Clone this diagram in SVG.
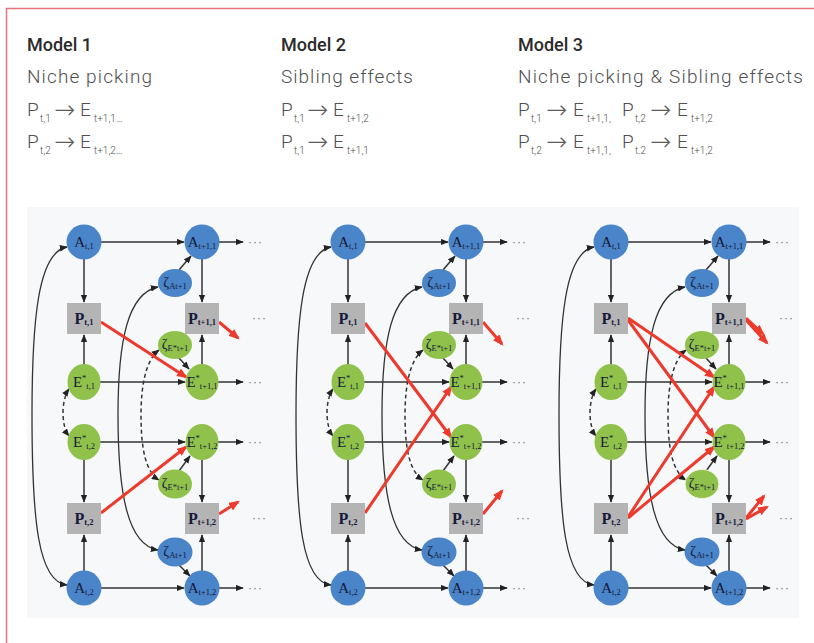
<svg xmlns="http://www.w3.org/2000/svg" width="814" height="643" viewBox="0 0 814 643">
<defs>
<style>
.mh{font-family:Roboto,"Liberation Sans",sans-serif;font-weight:500;font-size:18px;fill:#2b2b2b}
.sh{font-family:Roboto,"Liberation Sans",sans-serif;font-weight:300;font-size:19px;fill:#505050}
.hs{font-size:10px}
.ha{font-family:"DejaVu Sans",sans-serif;font-size:25px;font-weight:200;fill:#5a5a5a}
.bl{fill:#4a84c9}
.gr{fill:#90c24b}
.gy{fill:#b4b4b4}
.lab{font-family:"Liberation Serif",serif;font-size:15px;fill:#161a3a;text-anchor:middle}
.pl{font-weight:bold;font-size:16px}
.sb{font-size:8.5px}
.zl{font-family:"Liberation Serif",serif;font-size:14px;fill:#161a3a;text-anchor:middle}
.dots{font-family:"Liberation Sans",sans-serif;font-size:12px;fill:#777;letter-spacing:1px}
.k{fill:none;stroke:#333;stroke-width:1.5;marker-end:url(#ab)}
.kk{fill:none;stroke:#333;stroke-width:1.3;marker-start:url(#ab);marker-end:url(#ab)}
.kd{fill:none;stroke:#333;stroke-width:1.5;stroke-dasharray:4 3;marker-start:url(#ab);marker-end:url(#ab)}
.r{fill:none;stroke:#ee3a2c;stroke-width:3;marker-end:url(#ar)}
</style>
<marker id="ab" viewBox="0 0 10 8" refX="9" refY="4" markerWidth="8" markerHeight="7" orient="auto-start-reverse" markerUnits="userSpaceOnUse"><path d="M0,0 L10,4 L0,8 z" fill="#222"/></marker>
<marker id="ar" viewBox="0 0 10 8" refX="8" refY="4" markerWidth="11" markerHeight="9" orient="auto" markerUnits="userSpaceOnUse"><path d="M0,0 L10,4 L0,8 z" fill="#ee3a2c"/></marker>
</defs>
<rect width="814" height="643" fill="#ffffff"/>
<path d="M6.5,643 V8.5 H814" fill="none" stroke="#e7747d" stroke-width="1.5"/>

<g id="header">
<text class="mh" x="27" y="51">Model 1</text>
<text class="sh" x="27" y="83" textLength="125">Niche picking</text>
<text class="sh"><tspan x="27" y="116">P</tspan><tspan class="hs" x="40" y="122">t,1</tspan><tspan class="ha" x="54" y="118">→</tspan><tspan x="80" y="116">E</tspan><tspan class="hs" x="94" y="122">t+1,1…</tspan></text>
<text class="sh"><tspan x="27" y="148">P</tspan><tspan class="hs" x="40" y="154">t,2</tspan><tspan class="ha" x="54" y="150">→</tspan><tspan x="80" y="148">E</tspan><tspan class="hs" x="94" y="154">t+1,2…</tspan></text>

<text class="mh" x="281" y="51">Model 2</text>
<text class="sh" x="281" y="83" textLength="132">Sibling effects</text>
<text class="sh"><tspan x="281" y="116">P</tspan><tspan class="hs" x="294" y="122">t,1</tspan><tspan class="ha" x="307" y="118">→</tspan><tspan x="333" y="116">E</tspan><tspan class="hs" x="347" y="122">t+1,2</tspan></text>
<text class="sh"><tspan x="281" y="148">P</tspan><tspan class="hs" x="294" y="154">t,1</tspan><tspan class="ha" x="307" y="150">→</tspan><tspan x="333" y="148">E</tspan><tspan class="hs" x="347" y="154">t+1,1</tspan></text>

<text class="mh" x="518" y="51">Model 3</text>
<text class="sh" x="518" y="83" textLength="285">Niche picking &amp; Sibling effects</text>
<text class="sh"><tspan x="518" y="116">P</tspan><tspan class="hs" x="531" y="122">t,1</tspan><tspan class="ha" x="546" y="118">→</tspan><tspan x="573" y="116">E</tspan><tspan class="hs" x="587" y="122">t+1,1,</tspan><tspan x="622" y="116">P</tspan><tspan class="hs" x="635" y="122">t,2</tspan><tspan class="ha" x="650" y="118">→</tspan><tspan x="677" y="116">E</tspan><tspan class="hs" x="691" y="122">t+1,2</tspan></text>
<text class="sh"><tspan x="518" y="148">P</tspan><tspan class="hs" x="531" y="154">t,2</tspan><tspan class="ha" x="546" y="150">→</tspan><tspan x="573" y="148">E</tspan><tspan class="hs" x="587" y="154">t+1,1,</tspan><tspan x="622" y="148">P</tspan><tspan class="hs" x="635" y="154">t.2</tspan><tspan class="ha" x="650" y="150">→</tspan><tspan x="677" y="148">E</tspan><tspan class="hs" x="691" y="154">t+1,2</tspan></text>
</g>

<rect x="27" y="207" width="772" height="411" fill="#f7f8fa"/>

<!-- Panel 1 -->
<g id="panel1">
<g id="p1-connectors">
<path class="kk" d="M67,247 C38,252 32,320 32,415 C32,520 38,582 67,585"/>
<path class="kd" d="M69,389 C61,400 61,426 69,436"/>
<path class="kk" d="M158,287 C128,293 118,340 118,415 C118,495 128,545 158,550"/>
<path class="kd" d="M159,350 C146,360 141,385 141,415 C141,450 146,472 159,480"/>
<path class="k" d="M101,242 H184"/>
<path class="k" d="M219,242 H243"/>
<path class="k" d="M84,259 V302"/>
<path class="k" d="M84,364 V335"/>
<path class="k" d="M202,259 V302"/>
<path class="k" d="M202,364 V335"/>
<path class="k" d="M179,270 L191,256"/>
<path class="k" d="M179,358 L189,369"/>
<path class="k" d="M100,382 H185"/>
<path class="k" d="M218,382 H243"/>
<path class="k" d="M100,442 H185"/>
<path class="k" d="M218,442 H243"/>
<path class="k" d="M84,460 V502"/>
<path class="k" d="M84,571 V535"/>
<path class="k" d="M202,460 V502"/>
<path class="k" d="M202,571 V535"/>
<path class="k" d="M101,588 H184"/>
<path class="k" d="M219,588 H243"/>
<path class="k" d="M179,471 L190,456"/>
<path class="k" d="M179,565 L190,576"/>
<path class="r" d="M101,322 L186,377"/>
<path class="r" d="M219,322 L238,338"/>
<path class="r" d="M101,513 L186,447"/>
<path class="r" d="M219,514 L238,502"/>
</g>
<g id="p1-A-t1"><circle class="bl" cx="84" cy="242" r="17.5"/><text class="lab" x="84" y="247">A<tspan class="sb" dy="2">t,1</tspan></text></g>
<g id="p1-A-t11"><circle class="bl" cx="202" cy="242" r="17.5"/><text class="lab" x="202" y="247">A<tspan class="sb" dy="2">t+1,1</tspan></text></g>
<g id="p1-zA1"><ellipse class="bl" cx="175" cy="283" rx="17" ry="14"/><text class="zl" x="175" y="287">ζ<tspan class="sb" dy="2">At+1</tspan></text></g>
<g id="p1-P-t1"><rect class="gy" x="67" y="303" width="34" height="31"/><text class="lab pl" x="84" y="324">P<tspan class="sb" dy="1">t,1</tspan></text></g>
<g id="p1-P-t11"><rect class="gy" x="185" y="303" width="34" height="31"/><text class="lab pl" x="202" y="324">P<tspan class="sb" dy="1">t+1,1</tspan></text></g>
<g id="p1-zE1"><ellipse class="gr" cx="175" cy="345" rx="17" ry="14"/><text class="zl" x="175" y="349">ζ<tspan class="sb" dy="2">E*t+1</tspan></text></g>
<g id="p1-E-t1"><ellipse class="gr" cx="84" cy="382" rx="16.5" ry="18"/><text class="lab" x="84" y="387">E<tspan class="sb" dy="-6">*</tspan><tspan class="sb" dy="8">t,1</tspan></text></g>
<g id="p1-E-t11"><ellipse class="gr" cx="202" cy="382" rx="16.5" ry="18"/><text class="lab" x="202" y="387">E<tspan class="sb" dy="-6">*</tspan><tspan class="sb" dy="8">t+1,1</tspan></text></g>
<g id="p1-E-t2"><ellipse class="gr" cx="84" cy="442" rx="16.5" ry="18"/><text class="lab" x="84" y="447">E<tspan class="sb" dy="-6">*</tspan><tspan class="sb" dy="8">t,2</tspan></text></g>
<g id="p1-E-t12"><ellipse class="gr" cx="202" cy="442" rx="16.5" ry="18"/><text class="lab" x="202" y="447">E<tspan class="sb" dy="-6">*</tspan><tspan class="sb" dy="8">t+1,2</tspan></text></g>
<g id="p1-zE2"><ellipse class="gr" cx="175" cy="484" rx="17" ry="14.5"/><text class="zl" x="175" y="488">ζ<tspan class="sb" dy="2">E*t+1</tspan></text></g>
<g id="p1-P-t2"><rect class="gy" x="67" y="503" width="34" height="31"/><text class="lab pl" x="84" y="524">P<tspan class="sb" dy="1">t,2</tspan></text></g>
<g id="p1-P-t12"><rect class="gy" x="185" y="503" width="34" height="31"/><text class="lab pl" x="202" y="524">P<tspan class="sb" dy="1">t+1,2</tspan></text></g>
<g id="p1-zA2"><ellipse class="bl" cx="175" cy="552" rx="17.5" ry="14.5"/><text class="zl" x="175" y="556">ζ<tspan class="sb" dy="2">At+1</tspan></text></g>
<g id="p1-A-t2"><circle class="bl" cx="84" cy="588" r="17.5"/><text class="lab" x="84" y="593">A<tspan class="sb" dy="2">t,2</tspan></text></g>
<g id="p1-A-t12"><circle class="bl" cx="202" cy="588" r="17.5"/><text class="lab" x="202" y="593">A<tspan class="sb" dy="2">t+1,2</tspan></text></g>
<g id="p1-dots">
<text class="dots" x="248" y="246">···</text>
<text class="dots" x="252" y="322">···</text>
<text class="dots" x="248" y="386">···</text>
<text class="dots" x="248" y="446">···</text>
<text class="dots" x="252" y="522">···</text>
<text class="dots" x="248" y="592">···</text>
</g>
</g>

<!-- Panel 2 -->
<g id="panel2" transform="translate(264,0)">
<g id="p2-connectors">
<path class="kk" d="M67,247 C38,252 32,320 32,415 C32,520 38,582 67,585"/>
<path class="kd" d="M69,389 C61,400 61,426 69,436"/>
<path class="kk" d="M158,287 C128,293 118,340 118,415 C118,495 128,545 158,550"/>
<path class="kd" d="M159,350 C146,360 141,385 141,415 C141,450 146,472 159,480"/>
<path class="k" d="M101,242 H184"/>
<path class="k" d="M219,242 H243"/>
<path class="k" d="M84,259 V302"/>
<path class="k" d="M84,364 V335"/>
<path class="k" d="M202,259 V302"/>
<path class="k" d="M202,364 V335"/>
<path class="k" d="M179,270 L191,256"/>
<path class="k" d="M179,358 L189,369"/>
<path class="k" d="M100,382 H185"/>
<path class="k" d="M218,382 H243"/>
<path class="k" d="M100,442 H185"/>
<path class="k" d="M218,442 H243"/>
<path class="k" d="M84,460 V502"/>
<path class="k" d="M84,571 V535"/>
<path class="k" d="M202,460 V502"/>
<path class="k" d="M202,571 V535"/>
<path class="k" d="M101,588 H184"/>
<path class="k" d="M219,588 H243"/>
<path class="k" d="M179,471 L190,456"/>
<path class="k" d="M179,565 L190,576"/>
<path class="r" d="M101,323 L187,437"/>
<path class="r" d="M101,513 L187,387"/>
<path class="r" d="M219,322 L238,344"/>
<path class="r" d="M219,514 L238,491"/>
</g>
<g id="p2-A-t1"><circle class="bl" cx="84" cy="242" r="17.5"/><text class="lab" x="84" y="247">A<tspan class="sb" dy="2">t,1</tspan></text></g>
<g id="p2-A-t11"><circle class="bl" cx="202" cy="242" r="17.5"/><text class="lab" x="202" y="247">A<tspan class="sb" dy="2">t+1,1</tspan></text></g>
<g id="p2-zA1"><ellipse class="bl" cx="175" cy="283" rx="17" ry="14"/><text class="zl" x="175" y="287">ζ<tspan class="sb" dy="2">At+1</tspan></text></g>
<g id="p2-P-t1"><rect class="gy" x="67" y="303" width="34" height="31"/><text class="lab pl" x="84" y="324">P<tspan class="sb" dy="1">t,1</tspan></text></g>
<g id="p2-P-t11"><rect class="gy" x="185" y="303" width="34" height="31"/><text class="lab pl" x="202" y="324">P<tspan class="sb" dy="1">t+1,1</tspan></text></g>
<g id="p2-zE1"><ellipse class="gr" cx="175" cy="345" rx="17" ry="14"/><text class="zl" x="175" y="349">ζ<tspan class="sb" dy="2">E*t+1</tspan></text></g>
<g id="p2-E-t1"><ellipse class="gr" cx="84" cy="382" rx="16.5" ry="18"/><text class="lab" x="84" y="387">E<tspan class="sb" dy="-6">*</tspan><tspan class="sb" dy="8">t,1</tspan></text></g>
<g id="p2-E-t11"><ellipse class="gr" cx="202" cy="382" rx="16.5" ry="18"/><text class="lab" x="202" y="387">E<tspan class="sb" dy="-6">*</tspan><tspan class="sb" dy="8">t+1,1</tspan></text></g>
<g id="p2-E-t2"><ellipse class="gr" cx="84" cy="442" rx="16.5" ry="18"/><text class="lab" x="84" y="447">E<tspan class="sb" dy="-6">*</tspan><tspan class="sb" dy="8">t,2</tspan></text></g>
<g id="p2-E-t12"><ellipse class="gr" cx="202" cy="442" rx="16.5" ry="18"/><text class="lab" x="202" y="447">E<tspan class="sb" dy="-6">*</tspan><tspan class="sb" dy="8">t+1,2</tspan></text></g>
<g id="p2-zE2"><ellipse class="gr" cx="175" cy="484" rx="17" ry="14.5"/><text class="zl" x="175" y="488">ζ<tspan class="sb" dy="2">E*t+1</tspan></text></g>
<g id="p2-P-t2"><rect class="gy" x="67" y="503" width="34" height="31"/><text class="lab pl" x="84" y="524">P<tspan class="sb" dy="1">t,2</tspan></text></g>
<g id="p2-P-t12"><rect class="gy" x="185" y="503" width="34" height="31"/><text class="lab pl" x="202" y="524">P<tspan class="sb" dy="1">t+1,2</tspan></text></g>
<g id="p2-zA2"><ellipse class="bl" cx="175" cy="552" rx="17.5" ry="14.5"/><text class="zl" x="175" y="556">ζ<tspan class="sb" dy="2">At+1</tspan></text></g>
<g id="p2-A-t2"><circle class="bl" cx="84" cy="588" r="17.5"/><text class="lab" x="84" y="593">A<tspan class="sb" dy="2">t,2</tspan></text></g>
<g id="p2-A-t12"><circle class="bl" cx="202" cy="588" r="17.5"/><text class="lab" x="202" y="593">A<tspan class="sb" dy="2">t+1,2</tspan></text></g>
<g id="p2-dots">
<text class="dots" x="248" y="246">···</text>
<text class="dots" x="252" y="322">···</text>
<text class="dots" x="248" y="386">···</text>
<text class="dots" x="248" y="446">···</text>
<text class="dots" x="252" y="522">···</text>
<text class="dots" x="248" y="592">···</text>
</g>
</g>

<!-- Panel 3 -->
<g id="panel3" transform="translate(527,0)">
<g id="p3-connectors">
<path class="kk" d="M67,247 C38,252 32,320 32,415 C32,520 38,582 67,585"/>
<path class="kd" d="M69,389 C61,400 61,426 69,436"/>
<path class="kk" d="M158,287 C128,293 118,340 118,415 C118,495 128,545 158,550"/>
<path class="kd" d="M159,350 C146,360 141,385 141,415 C141,450 146,472 159,480"/>
<path class="k" d="M101,242 H184"/>
<path class="k" d="M219,242 H243"/>
<path class="k" d="M84,259 V302"/>
<path class="k" d="M84,364 V335"/>
<path class="k" d="M202,259 V302"/>
<path class="k" d="M202,364 V335"/>
<path class="k" d="M179,270 L191,256"/>
<path class="k" d="M179,358 L189,369"/>
<path class="k" d="M100,382 H185"/>
<path class="k" d="M218,382 H243"/>
<path class="k" d="M100,442 H185"/>
<path class="k" d="M218,442 H243"/>
<path class="k" d="M84,460 V502"/>
<path class="k" d="M84,571 V535"/>
<path class="k" d="M202,460 V502"/>
<path class="k" d="M202,571 V535"/>
<path class="k" d="M101,588 H184"/>
<path class="k" d="M219,588 H243"/>
<path class="k" d="M179,471 L190,456"/>
<path class="k" d="M179,565 L190,576"/>
<path class="r" d="M101,318 L187,377"/>
<path class="r" d="M101,320 L187,437"/>
<path class="r" d="M101,517 L187,387"/>
<path class="r" d="M101,518 L187,447"/>
<path class="r" d="M219,318 L236,334"/>
<path class="r" d="M219,320 L240,343"/>
<path class="r" d="M219,518 L237,496"/>
<path class="r" d="M219,519 L240,507"/>
</g>
<g id="p3-A-t1"><circle class="bl" cx="84" cy="242" r="17.5"/><text class="lab" x="84" y="247">A<tspan class="sb" dy="2">t,1</tspan></text></g>
<g id="p3-A-t11"><circle class="bl" cx="202" cy="242" r="17.5"/><text class="lab" x="202" y="247">A<tspan class="sb" dy="2">t+1,1</tspan></text></g>
<g id="p3-zA1"><ellipse class="bl" cx="175" cy="283" rx="17" ry="14"/><text class="zl" x="175" y="287">ζ<tspan class="sb" dy="2">At+1</tspan></text></g>
<g id="p3-P-t1"><rect class="gy" x="67" y="303" width="34" height="31"/><text class="lab pl" x="84" y="324">P<tspan class="sb" dy="1">t,1</tspan></text></g>
<g id="p3-P-t11"><rect class="gy" x="185" y="303" width="34" height="31"/><text class="lab pl" x="202" y="324">P<tspan class="sb" dy="1">t+1,1</tspan></text></g>
<g id="p3-zE1"><ellipse class="gr" cx="175" cy="345" rx="17" ry="14"/><text class="zl" x="175" y="349">ζ<tspan class="sb" dy="2">E*t+1</tspan></text></g>
<g id="p3-E-t1"><ellipse class="gr" cx="84" cy="382" rx="16.5" ry="18"/><text class="lab" x="84" y="387">E<tspan class="sb" dy="-6">*</tspan><tspan class="sb" dy="8">t,1</tspan></text></g>
<g id="p3-E-t11"><ellipse class="gr" cx="202" cy="382" rx="16.5" ry="18"/><text class="lab" x="202" y="387">E<tspan class="sb" dy="-6">*</tspan><tspan class="sb" dy="8">t+1,1</tspan></text></g>
<g id="p3-E-t2"><ellipse class="gr" cx="84" cy="442" rx="16.5" ry="18"/><text class="lab" x="84" y="447">E<tspan class="sb" dy="-6">*</tspan><tspan class="sb" dy="8">t,2</tspan></text></g>
<g id="p3-E-t12"><ellipse class="gr" cx="202" cy="442" rx="16.5" ry="18"/><text class="lab" x="202" y="447">E<tspan class="sb" dy="-6">*</tspan><tspan class="sb" dy="8">t+1,2</tspan></text></g>
<g id="p3-zE2"><ellipse class="gr" cx="175" cy="484" rx="17" ry="14.5" stroke="#eef5e4" stroke-width="1"/><text class="zl" x="175" y="488">ζ<tspan class="sb" dy="2">E*t+1</tspan></text></g>
<g id="p3-P-t2"><rect class="gy" x="67" y="503" width="34" height="31"/><text class="lab pl" x="84" y="524">P<tspan class="sb" dy="1">t,2</tspan></text></g>
<g id="p3-P-t12"><rect class="gy" x="185" y="503" width="34" height="31"/><text class="lab pl" x="202" y="524">P<tspan class="sb" dy="1">t+1,2</tspan></text></g>
<g id="p3-zA2"><ellipse class="bl" cx="175" cy="552" rx="17.5" ry="14.5"/><text class="zl" x="175" y="556">ζ<tspan class="sb" dy="2">At+1</tspan></text></g>
<g id="p3-A-t2"><circle class="bl" cx="84" cy="588" r="17.5"/><text class="lab" x="84" y="593">A<tspan class="sb" dy="2">t,2</tspan></text></g>
<g id="p3-A-t12"><circle class="bl" cx="202" cy="588" r="17.5"/><text class="lab" x="202" y="593">A<tspan class="sb" dy="2">t+1,2</tspan></text></g>
<g id="p3-dots">
<text class="dots" x="248" y="246">···</text>
<text class="dots" x="252" y="322">···</text>
<text class="dots" x="248" y="386">···</text>
<text class="dots" x="248" y="446">···</text>
<text class="dots" x="252" y="522">···</text>
<text class="dots" x="248" y="592">···</text>
</g>
</g>
</svg>
